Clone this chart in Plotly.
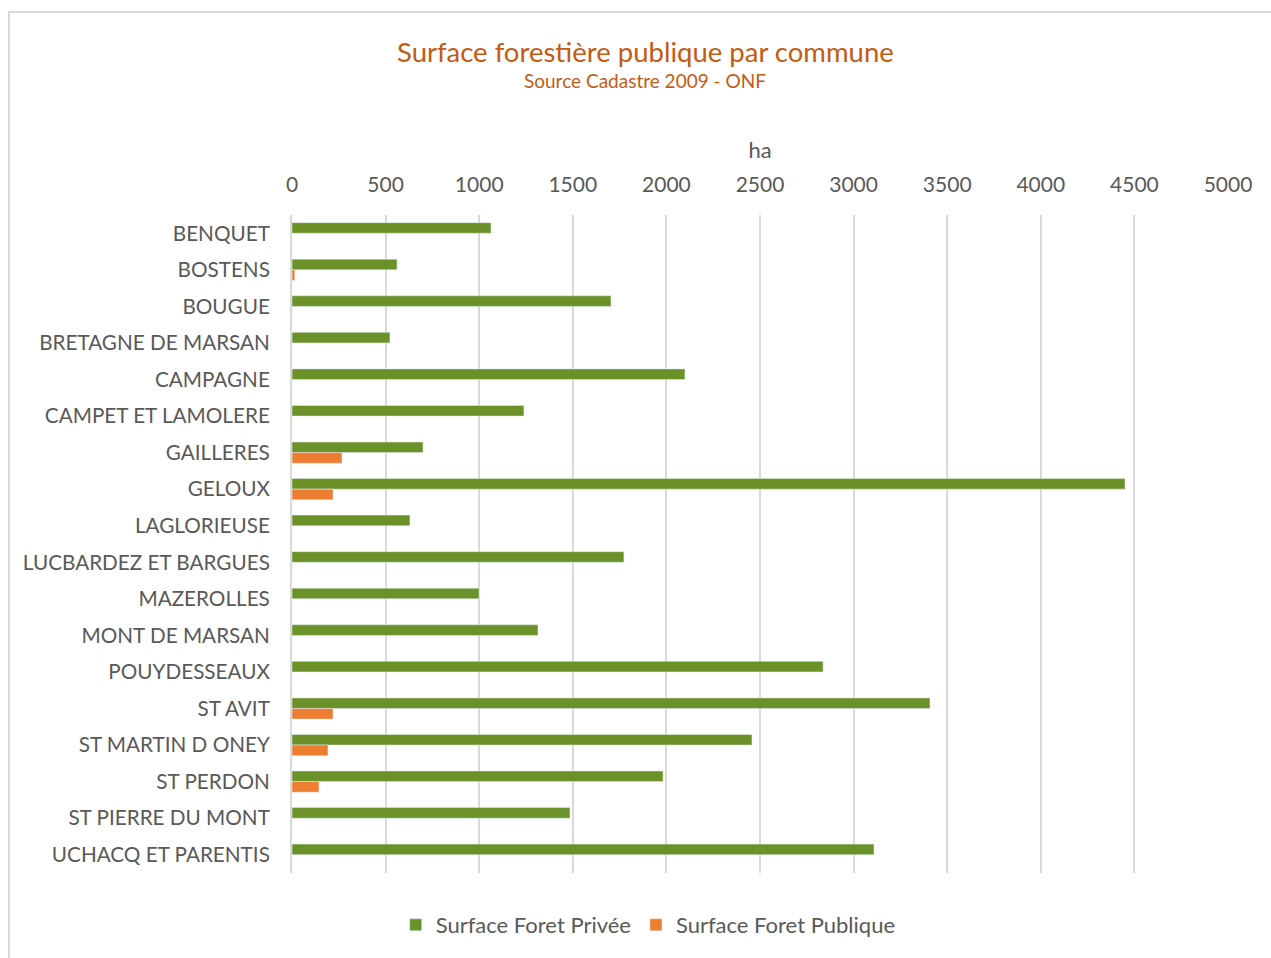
import plotly.graph_objects as go

communes = ["BENQUET", "BOSTENS", "BOUGUE", "BRETAGNE DE MARSAN", "CAMPAGNE",
            "CAMPET ET LAMOLERE", "GAILLERES", "GELOUX", "LAGLORIEUSE",
            "LUCBARDEZ ET BARGUES", "MAZEROLLES", "MONT DE MARSAN", "POUYDESSEAUX",
            "ST AVIT", "ST MARTIN D ONEY", "ST PERDON", "ST PIERRE DU MONT",
            "UCHACQ ET PARENTIS"]
foret_privee = [1063, 561, 1704, 523, 2099, 1239, 700, 4450, 630, 1773, 999,
                1314, 2837, 3408, 2457, 1982, 1485, 3109]
foret_publique = [0, 15, 0, 0, 0, 0, 267, 219, 0, 0, 0, 0, 0, 219, 192, 144, 0, 0]
x_ticks = list(range(0, 5001, 500))

W, H = 1271, 958
L, R, T, B = 292, 43, 215, 85

fig = go.Figure()
fig.add_bar(y=communes, x=foret_privee, orientation="h", name="Surface Foret Privée",
            marker=dict(color="#6B9228"))
fig.add_bar(y=communes, x=foret_publique, orientation="h", name="Surface Foret Publique",
            marker=dict(color="#ED7D31"))

pw = W - L - R
ph = H - T - B
def px_x(p):
    return (p - L) / pw
def px_y(p):
    return (H - B - p) / ph

fig.update_layout(
    width=W, height=H,
    margin=dict(l=L, r=R, t=T, b=B),
    paper_bgcolor="white", plot_bgcolor="white",
    font=dict(family="Lato", color="#595959"),
    barmode="group", bargap=0.42, bargroupgap=0,
    showlegend=True,
    legend=dict(orientation="h", xref="container", x=0.51, xanchor="center",
                yref="container", y=1 - 925 / H, yanchor="middle",
                font=dict(size=22, color="#595959"), traceorder="normal"),
    xaxis=dict(side="top", range=[0, 5000], tickvals=x_ticks, showgrid=True,
               gridcolor="#D9D9D9", gridwidth=2, zeroline=False, showline=False,
               tickfont=dict(size=21), ticklabelstandoff=18,
               title=dict(text="ha", font=dict(size=22), standoff=6)),
    yaxis=dict(categoryorder="array", categoryarray=communes, autorange="reversed",
               showgrid=False, zeroline=False, showline=True, linecolor="#D9D9D9",
               linewidth=2, tickfont=dict(size=20.7), ticklabelstandoff=16),
    annotations=[
        dict(text="Surface forestière publique par commune", xref="paper", yref="paper",
             x=px_x(645), y=px_y(51), xanchor="center", yanchor="middle",
             showarrow=False, font=dict(size=27.5, color="#C55A11")),
        dict(text="Source Cadastre 2009 - ONF", xref="paper", yref="paper",
             x=px_x(645), y=px_y(81), xanchor="center", yanchor="middle",
             showarrow=False, font=dict(size=19, color="#C55A11")),
    ],
    shapes=[
        dict(type="rect", xref="paper", yref="paper", x0=px_x(9), x1=px_x(1280),
             y0=px_y(970), y1=px_y(12), line=dict(color="#D9D9D9", width=2), layer="below"),
    ],
)

fig.write_html("out.html", config={"displayModeBar": False},
               post_script="document.body.style.margin='0';")
